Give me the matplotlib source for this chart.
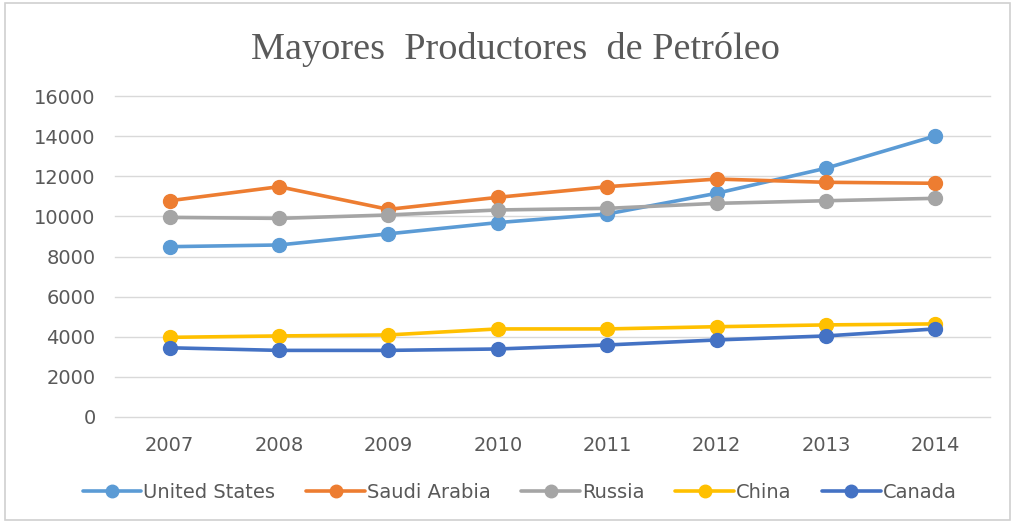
import matplotlib.pyplot as plt
from matplotlib.patches import Rectangle

years = ['2007', '2008', '2009', '2010', '2011', '2012', '2013', '2014']
united_states = [8490, 8575, 9130, 9690, 10120, 11150, 12400, 14010]
saudi_arabia = [10780, 11480, 10350, 10950, 11480, 11860, 11700, 11650]
russia = [9950, 9900, 10070, 10320, 10400, 10650, 10780, 10900]
china = [3970, 4040, 4090, 4390, 4390, 4500, 4590, 4640]
canada = [3450, 3320, 3320, 3390, 3590, 3840, 4040, 4390]

series = [
    ('United States', united_states, '#5B9BD5'),
    ('Saudi Arabia', saudi_arabia, '#ED7D31'),
    ('Russia', russia, '#A5A5A5'),
    ('China', china, '#FFC000'),
    ('Canada', canada, '#4472C4'),
]

fig = plt.figure(figsize=(10.15, 5.23), dpi=100)
ax = fig.add_axes([0.1133, 0.2027, 0.862, 0.6137])

# chart border
fig.patches.append(Rectangle((0.005, 0.005), 0.99, 0.99, transform=fig.transFigure,
                             fill=False, edgecolor='#D0D0D0', lw=1.2))

x = range(len(years))
for name, vals, col in series:
    ax.plot(x, vals, color=col, lw=2.6, marker='o', markersize=10, label=name,
            solid_capstyle='round')

ax.set_xlim(-0.5, len(years) - 0.5)
ax.set_ylim(0, 16000)
ax.set_yticks(range(0, 16001, 2000))
ax.set_xticks(list(x))
ax.set_xticklabels(years)
ax.grid(axis='y', color='#D9D9D9', lw=1)
ax.set_axisbelow(True)
for gl in ax.get_ygridlines():
    gl.set_clip_on(False)
for s in ax.spines.values():
    s.set_visible(False)
ax.tick_params(length=0, labelsize=14, labelcolor='#595959')
ax.tick_params(axis='y', pad=14)
ax.tick_params(axis='x', pad=14)

fig.text(0.508, 0.905, 'Mayores  Productores  de Petróleo', ha='center', va='center',
         family='Liberation Serif', fontsize=27.5, color='#595959')

leg = fig.legend(loc='center', bbox_to_anchor=(0.512, 0.058), ncol=5, frameon=False,
                 fontsize=14, handlelength=3.0, handletextpad=0.1, columnspacing=1.6,
                 markerscale=0.9)
for t in leg.get_texts():
    t.set_color('#595959')

fig.savefig('out.png', dpi=100)
